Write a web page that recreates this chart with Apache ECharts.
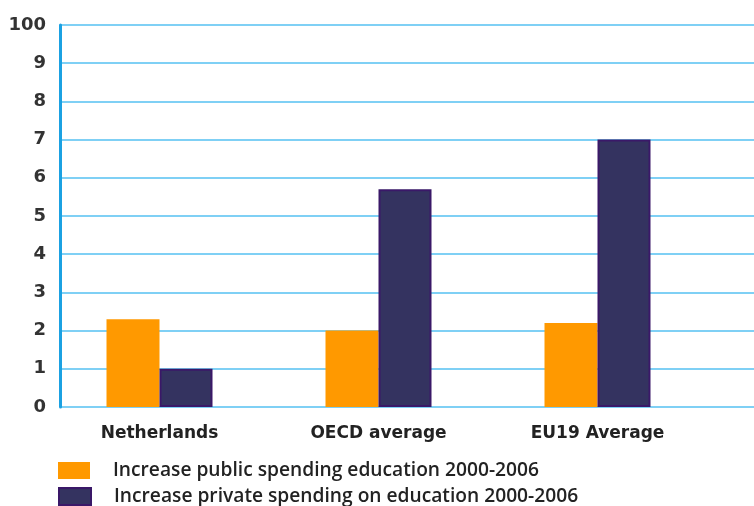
<!DOCTYPE html>
<html><head><meta charset="utf-8">
<script src="https://cdn.jsdelivr.net/npm/echarts@6/dist/echarts.min.js"></script>
<style>html,body{margin:0;padding:0;background:#fff}#c{width:754px;height:506px}</style>
</head><body><div id="c"></div>
<script>
const categories = ['Netherlands', 'OECD average', 'EU19 Average'];
const publicSpending = [2.3, 2.0, 2.2];
const privateSpending = [1.0, 5.7, 7.0];
const yTickLabels = ['0','1','2','3','4','5','6','7','8','9','100'];
const seriesNames = ['Increase public spending education 2000-2006', 'Increase private spending on education 2000-2006'];

const chart = echarts.init(document.getElementById('c'), null, {renderer:'canvas'});
const legendBase = {
  orient:'vertical', left:58, itemWidth:32, itemHeight:17, padding:0,
  icon:'rect',
  textStyle:{fontFamily:'Open Sans', fontWeight:600, fontSize:19.2, color:'#222', padding:[0,0,0,18]}
};
chart.setOption({
  animation:false,
  grid:[
    {left:60, right:0, top:25, bottom:99},
    {left:50, width:657, top:25, bottom:99}
  ],
  xAxis:[
    {gridIndex:0, type:'category', data:categories, show:false},
    {gridIndex:1, type:'category', data:categories,
      axisLine:{show:false}, axisTick:{show:false},
      axisLabel:{margin:18, fontSize:17, color:'#222', fontFamily:'DejaVu Sans', fontWeight:'bold'}}
  ],
  yAxis:[
    {gridIndex:0, type:'value', min:0, max:10, interval:1,
      axisLine:{show:true, lineStyle:{color:'#1BA1E2', width:3}},
      axisTick:{show:false},
      splitLine:{lineStyle:{color:'#7FD0F5', width:2}},
      axisLabel:{margin:14, fontSize:18, color:'#333', fontFamily:'DejaVu Sans', fontWeight:'bold',
        formatter:(v)=>yTickLabels[Math.round(v)]}},
    {gridIndex:1, type:'value', min:0, max:10, interval:1, show:false}
  ],
  legend:[
    Object.assign({top:461, data:[seriesNames[0]]}, legendBase),
    Object.assign({top:487, data:[seriesNames[1]]}, legendBase)
  ],
  series:[
    {name:seriesNames[0], type:'bar', xAxisIndex:1, yAxisIndex:1, data:publicSpending,
      barWidth:53, barGap:'0%', itemStyle:{color:'#FF9900'}},
    {name:seriesNames[1], type:'bar', xAxisIndex:1, yAxisIndex:1, data:privateSpending,
      barWidth:53, barGap:'0%', itemStyle:{color:'#343360', borderColor:'#3A1868', borderWidth:2}}
  ]
});
</script></body></html>
